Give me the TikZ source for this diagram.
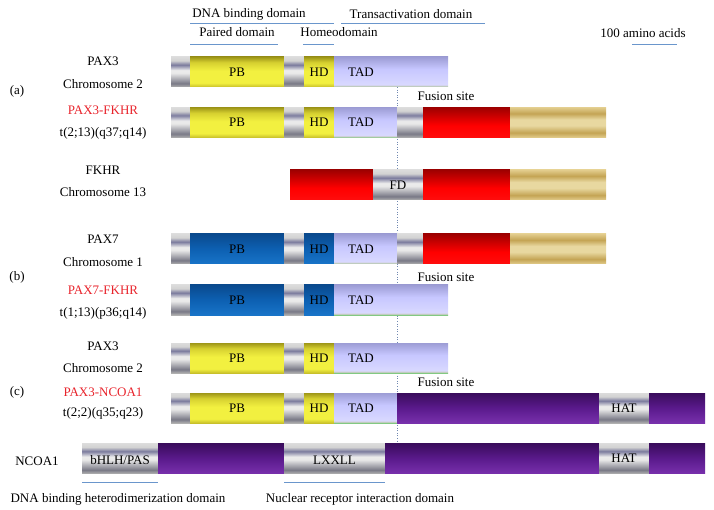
\documentclass[tikz,border=0pt]{standalone}
\usepackage{fontspec}
\setmainfont{Liberation Serif}

\definecolor{lblred}{HTML}{E8242C}
\definecolor{annblue}{HTML}{6A96CC}
\definecolor{fusdot}{HTML}{7088B0}
\definecolor{yelA}{HTML}{9E9618}
\definecolor{yelB}{HTML}{D6D030}
\definecolor{yelC}{HTML}{F2F040}
\definecolor{yelD}{HTML}{C8C02A}
\definecolor{bluA}{HTML}{0A4A8E}
\definecolor{bluB}{HTML}{0D60B2}
\definecolor{bluC}{HTML}{1874C8}
\definecolor{tanA}{HTML}{E8D8A0}
\definecolor{tanB}{HTML}{C4A454}
\definecolor{tanC}{HTML}{E2CC8C}
\definecolor{purA}{HTML}{3A0C5C}
\definecolor{purB}{HTML}{5A1A8C}
\definecolor{purC}{HTML}{7830AC}

%% vertical shadings: 25bp = bottom edge, 75bp = top edge
\pgfdeclareverticalshading{greyseg}{100bp}{color(0bp)=(gray!62); color(25bp)=(gray!62);
  color(31bp)=(gray!95!blue!100); color(48bp)=(gray!18); color(53bp)=(gray!15);
  color(62bp)=(gray!85!blue!90); color(69bp)=(gray!35); color(75bp)=(gray!28); color(100bp)=(gray!28)}
\pgfdeclareverticalshading{yelseg}{100bp}{color(0bp)=(yelD); color(25bp)=(yelD);
  color(32bp)=(yelC); color(52bp)=(yelC); color(66bp)=(yelB); color(75bp)=(yelA); color(100bp)=(yelA)}
\pgfdeclareverticalshading{bluseg}{100bp}{color(0bp)=(bluC); color(25bp)=(bluC);
  color(50bp)=(bluB); color(75bp)=(bluA); color(100bp)=(bluA)}
\pgfdeclareverticalshading{tadseg}{100bp}{color(0bp)=(gray!60!green!70!white); color(25bp)=(gray!60!green!70!white);
  color(27bp)=(gray!40!white); color(29bp)=(blue!15!white); color(55bp)=(blue!22!white);
  color(75bp)=(blue!40!gray!55!white); color(100bp)=(blue!40!gray!55!white)}
\pgfdeclareverticalshading{redseg}{100bp}{color(0bp)=(red!95!white); color(25bp)=(red!95!white);
  color(45bp)=(red); color(75bp)=(red!62!black); color(100bp)=(red!62!black)}
\pgfdeclareverticalshading{tanseg}{100bp}{color(0bp)=(tanC); color(25bp)=(tanC);
  color(33bp)=(tanB); color(45bp)=(tanA); color(55bp)=(tanA);
  color(65bp)=(tanB); color(75bp)=(tanC); color(100bp)=(tanC)}
\pgfdeclareverticalshading{purseg}{100bp}{color(0bp)=(purC); color(25bp)=(purC);
  color(50bp)=(purB); color(75bp)=(purA); color(100bp)=(purA)}

\newcommand{\lblfont}{\fontsize{13}{15}\selectfont}
%% segment: style, name, x from, x to, text
\newcommand{\seg}[5]{%
  \pgfmathsetmacro{\segw}{#4-#3}%
  \node[#1, minimum width=\segw pt] (#2) at ({(#3+#4)/2},\rowy) {#5};}

\begin{document}
\begin{tikzpicture}[x=1pt, y=-1pt,
  seg/.style={rectangle, inner sep=0pt, outer sep=0pt, minimum height=30pt, font=\lblfont},
  segg/.style={seg, shade, shading=greyseg},
  segy/.style={seg, shade, shading=yelseg},
  segb/.style={seg, shade, shading=bluseg},
  segt/.style={seg, shade, shading=tadseg},
  segr/.style={seg, shade, shading=redseg},
  segn/.style={seg, shade, shading=tanseg},
  segp/.style={seg, shade, shading=purseg},
  txt/.style={font=\lblfont, inner sep=1pt},
  gene/.style={txt},
  fgene/.style={txt, text=lblred},
  uline/.style={annblue, line width=0.7pt},
  fusl/.style={fusdot, dotted, line width=0.6pt}
]
\useasboundingbox (0,0) rectangle (714,510);

%% fusion site
\coordinate (fustop) at (397,87);
\coordinate (fusbot) at (397,443);
\draw[fusl] (fustop) -- (fusbot);

%% domain annotations on top
\node[txt] (dbd) at (249,14) {DNA binding domain};
\node[txt] (trd) at (411,14) {Transactivation domain};
\node[txt] (pdm) at (237,32) {Paired domain};
\node[txt] (hdm) at (339,32) {Homeodomain};
\node[txt] (scl) at (643,33) {100 amino acids};
\draw[uline] (190,23) -- (334,23);
\draw[uline] (341,23) -- (485,23);
\draw[uline] (190,44) -- (278,44);
\draw[uline] (303,44) -- (334,44);
\draw[uline] (632,44) -- (677,44);

%% (a) PAX3
\def\rowy{72}
\node[gene] (g1a) at (103,61) {PAX3};
\node[gene] (g1b) at (103,84) {Chromosome 2};
\seg{segg}{r1a}{171}{190}{}
\seg{segy}{r1pb}{190}{284}{PB}
\seg{segg}{r1b}{284}{304}{}
\seg{segy}{r1hd}{304}{334}{HD}
\seg{segt}{r1tad}{334}{448}{}
\node[txt] (r1tadl) at ([xshift=27pt]r1tad.west) {TAD};

\node[txt] (pa) at (17,91) {(a)};
\node[txt] (fs1) at (446,96) {Fusion site};

%% PAX3-FKHR
\def\rowy{122.5}
\node[fgene] (g2a) at (103,110) {PAX3-FKHR};
\node[gene] (g2b) at (103,133) {t(2;13)(q37;q14)};
\seg{segg}{r2a}{171}{190}{}
\seg{segy}{r2pb}{190}{284}{PB}
\seg{segg}{r2b}{284}{304}{}
\seg{segy}{r2hd}{304}{334}{HD}
\seg{segt}{r2tad}{334}{397}{}
\node[txt] (r2tadl) at ([xshift=27pt]r2tad.west) {TAD};
\seg{segg}{r2c}{397}{423}{}
\seg{segr}{r2d}{423}{510}{}
\seg{segn}{r2e}{510}{606}{}

%% FKHR
\def\rowy{185}
\node[gene] (g3a) at (103,170) {FKHR};
\node[gene] (g3b) at (103,192) {Chromosome 13};
\seg{segr}{r3a}{290}{373}{}
\seg{segg}{r3fd}{373}{423}{FD}
\seg{segr}{r3b}{423}{510}{}
\seg{segn}{r3c}{510}{606}{}

%% (b) PAX7
\def\rowy{249}
\node[gene] (g4a) at (103,239) {PAX7};
\node[gene] (g4b) at (103,262) {Chromosome 1};
\seg{segg}{r4a}{171}{190}{}
\seg{segb}{r4pb}{190}{284}{PB}
\seg{segg}{r4b}{284}{304}{}
\seg{segb}{r4hd}{304}{334}{HD}
\seg{segt}{r4tad}{334}{397}{}
\node[txt] (r4tadl) at ([xshift=27pt]r4tad.west) {TAD};
\seg{segg}{r4c}{397}{423}{}
\seg{segr}{r4d}{423}{510}{}
\seg{segn}{r4e}{510}{606}{}

\node[txt] (pb) at (17,277) {(b)};
\node[txt] (fs2) at (446,277) {Fusion site};

%% PAX7-FKHR
\def\rowy{300}
\node[fgene] (g5a) at (103,290) {PAX7-FKHR};
\node[gene] (g5b) at (103,313) {t(1;13)(p36;q14)};
\seg{segg}{r5a}{171}{190}{}
\seg{segb}{r5pb}{190}{284}{PB}
\seg{segg}{r5b}{284}{304}{}
\seg{segb}{r5hd}{304}{334}{HD}
\seg{segt}{r5tad}{334}{448}{}
\node[txt] (r5tadl) at ([xshift=27pt]r5tad.west) {TAD};

%% (c) PAX3
\def\rowy{358}
\node[gene] (g6a) at (103,346) {PAX3};
\node[gene] (g6b) at (103,368) {Chromosome 2};
\seg{segg}{r6a}{171}{190}{}
\seg{segy}{r6pb}{190}{284}{PB}
\seg{segg}{r6b}{284}{304}{}
\seg{segy}{r6hd}{304}{334}{HD}
\seg{segt}{r6tad}{334}{448}{}
\node[txt] (r6tadl) at ([xshift=27pt]r6tad.west) {TAD};

\node[txt] (pc) at (17,392) {(c)};
\node[txt] (fs3) at (446,382) {Fusion site};

%% PAX3-NCOA1
\def\rowy{408}
\node[fgene] (g7a) at (103,392) {PAX3-NCOA1};
\node[gene] (g7b) at (103,413) {t(2;2)(q35;q23)};
\seg{segg}{r7a}{171}{190}{}
\seg{segy}{r7pb}{190}{284}{PB}
\seg{segg}{r7b}{284}{304}{}
\seg{segy}{r7hd}{304}{334}{HD}
\seg{segt}{r7tad}{334}{397}{}
\node[txt] (r7tadl) at ([xshift=27pt]r7tad.west) {TAD};
\seg{segp}{r7c}{397}{599}{}
\seg{segg}{r7hat}{599}{649}{HAT}
\seg{segp}{r7d}{649}{705}{}

%% NCOA1
\def\rowy{458.5}
\node[gene] (g8a) at (37,461) {NCOA1};
\seg{segg}{r8bh}{82}{158}{}
\node[txt] (r8bhl) at ([yshift=-2pt]r8bh.center) {bHLH/PAS};
\seg{segp}{r8a}{158}{284}{}
\seg{segg}{r8lx}{284}{385}{}
\node[txt] (r8lxl) at ([yshift=-2pt]r8lx.center) {LXXLL};
\seg{segp}{r8b}{385}{599}{}
\seg{segg}{r8hat}{599}{649}{HAT}
\seg{segp}{r8c}{649}{705}{}

%% domain annotations below
\draw[uline] (82,482) -- (158,482);
\draw[uline] (284,482) -- (385,482);
\node[txt] (dhd) at (118,499) {DNA binding heterodimerization domain};
\node[txt] (nri) at (360,499) {Nuclear receptor interaction domain};
\end{tikzpicture}
\end{document}
